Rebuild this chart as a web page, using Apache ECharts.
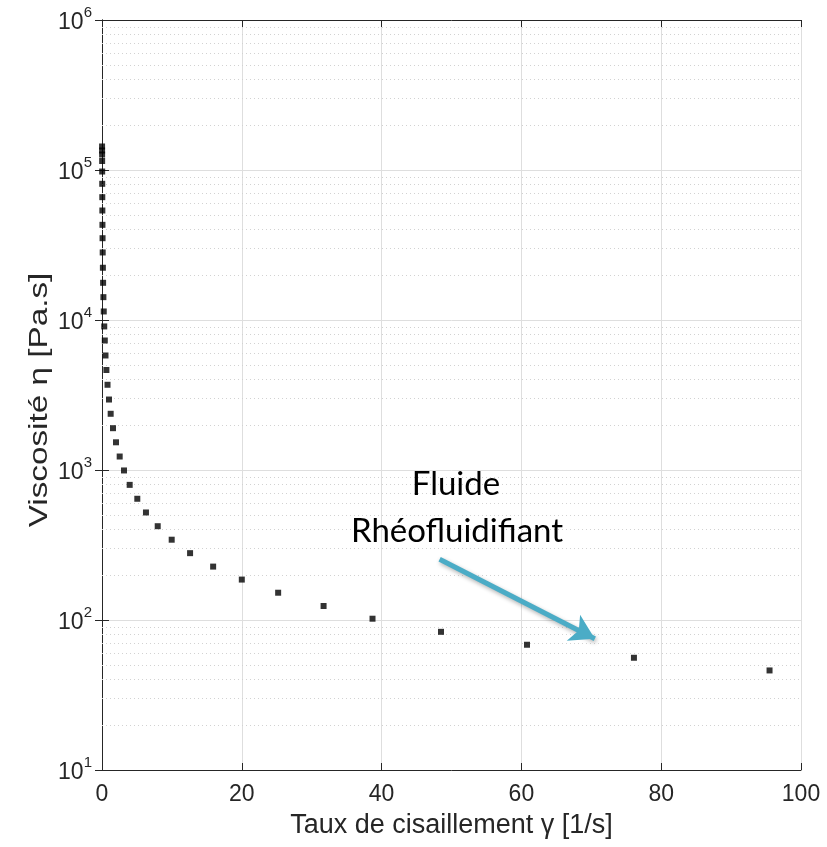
<!DOCTYPE html>
<html lang="fr">
<head>
  <meta charset="UTF-8">
  <title>Viscosité - fluide rhéofluidifiant</title>
  <script src="https://cdn.jsdelivr.net/npm/echarts@6/dist/echarts.min.js"></script>
  <style>
    html, body { margin: 0; padding: 0; background: #fff; }
    #chart { width: 827px; height: 847px; }
  </style>
</head>
<body>
  <div id="chart"></div>
  <script>
    // taux de cisaillement [1/s] et viscosité [Pa.s]
    const shearRate = [0.01, 0.0126, 0.0158, 0.02, 0.025, 0.032, 0.04, 0.05, 0.063, 0.079,
      0.1, 0.126, 0.158, 0.2, 0.25, 0.32, 0.4, 0.5, 0.63, 0.79,
      1.0, 1.24, 1.57, 2.0, 2.53, 3.15, 3.96, 5.05, 6.29, 7.97,
      9.97, 12.6, 15.9, 20.0, 25.2, 31.7, 38.7, 48.5, 60.8, 76.1, 95.5]
    const viscosity = [143500, 134900, 126800, 114800, 97700, 80900, 65900, 53700, 43100, 35100,
      28200, 22300, 17700, 14200, 11400, 9060, 7300, 5800, 4640, 3700,
      2950, 2370, 1900, 1530, 1230, 993, 796, 643, 521, 422,
      343, 279, 227, 186, 152, 124, 102, 83.4, 68.4, 56.0, 46.1]

    const yDecades = [10, 100, 1000, 10000, 100000]
    const minorSteps = [2, 3, 4, 5, 6, 7, 8, 9]

    // flèche d'annotation (coordonnées des données)
    const arrowFrom = [48.3, 254]
    const arrowTo = [70.5, 75]
    const noteLines = ['Fluide', 'Rhéofluidifiant']
    const yTitle = 'Viscosité η [Pa.s]'
    const xTitle = 'Taux de cisaillement γ [1/s]'

    const minorGrid = []
    yDecades.forEach(d => minorSteps.forEach(m => minorGrid.push({ yAxis: d * m })))

    const pts = shearRate.map((x, i) => [x, viscosity[i]])

    const axisCol = '#262626'
    const font = '"Liberation Sans", Arial, sans-serif'
    const noteFont = '33px Lato, "Open Sans", sans-serif'

    const chart = echarts.init(document.getElementById('chart'))
    chart.setOption({
      backgroundColor: '#fff',
      animation: false,
      grid: { left: 102, right: 26, top: 20, bottom: 77 },
      xAxis: [{
        type: 'value', min: 0, max: 100, interval: 20,
        name: xTitle, nameLocation: 'middle', nameGap: 42,
        nameTextStyle: { color: axisCol, fontSize: 27, fontFamily: font },
        axisLine: { show: true, lineStyle: { color: axisCol, width: 1 } },
        axisTick: { show: true, inside: true, length: 7, lineStyle: { color: axisCol } },
        axisLabel: { color: axisCol, fontSize: 23, fontFamily: font, margin: 13 },
        splitLine: { show: true, lineStyle: { color: '#dedede', width: 1 } }
      }, {
        type: 'value', min: 0, max: 100, interval: 20, position: 'top',
        axisLine: { show: true, lineStyle: { color: axisCol, width: 1 } },
        axisTick: { show: true, inside: true, length: 7, lineStyle: { color: axisCol } },
        axisLabel: { show: false }, splitLine: { show: false }
      }],
      yAxis: [{
        type: 'log', logBase: 10, min: 10, max: 1000000, splitNumber: 5,
        axisLine: { show: true, lineStyle: { color: axisCol, width: 1 } },
        axisTick: { show: true, inside: true, length: 7, lineStyle: { color: axisCol } },
        axisLabel: {
          margin: 10,
          formatter: v => '{b|10}{s|' + Math.round(Math.log10(v)) + '}',
          rich: {
            b: { color: axisCol, fontSize: 23, fontFamily: font, verticalAlign: 'bottom', padding: [6, 0, 0, 0] },
            s: { color: axisCol, fontSize: 15, fontFamily: font, verticalAlign: 'top' }
          }
        },
        splitLine: { show: true, lineStyle: { color: '#dedede', width: 1 } }
      }, {
        type: 'log', logBase: 10, min: 10, max: 1000000, splitNumber: 5, position: 'right',
        axisLine: { show: true, lineStyle: { color: axisCol, width: 1 } },
        axisTick: { show: true, inside: true, length: 7, lineStyle: { color: axisCol } },
        axisLabel: { show: false }, splitLine: { show: false }
      }],
      series: [{
        type: 'scatter',
        data: pts,
        symbol: 'rect',
        symbolSize: 6,
        itemStyle: { color: '#000' },
        z: 5,
        markLine: {
          silent: true,
          symbol: 'none',
          label: { show: false },
          lineStyle: { color: '#d2d2d2', type: [1, 3], width: 1 },
          data: minorGrid,
          z: 1
        }
      }, {
        type: 'scatter',
        data: [],
        markLine: {
          silent: true,
          symbol: ['none', 'arrow'],
          symbolSize: [22, 24],
          label: { show: false },
          lineStyle: {
            color: '#4bacc6', width: 5, type: 'solid',
            shadowColor: 'rgba(0,0,0,0.3)', shadowBlur: 4, shadowOffsetX: 1, shadowOffsetY: 2
          },
          data: [[{ coord: arrowFrom }, { coord: arrowTo }]],
          z: 6
        }
      }],
      graphic: [{
        // titre de l'axe y, étiré comme dans la figure d'origine
        type: 'text', x: 40, y: 400, rotation: Math.PI / 2, scaleX: 1.28, z: 10,
        style: { text: yTitle, fill: axisCol, align: 'center', verticalAlign: 'middle', font: '26px ' + font }
      }, {
        type: 'text', x: 456, y: 484, z: 10,
        style: { text: noteLines[0], fill: '#000', align: 'center', verticalAlign: 'middle', font: noteFont }
      }, {
        type: 'text', x: 457, y: 531, z: 10,
        style: { text: noteLines[1], fill: '#000', align: 'center', verticalAlign: 'middle', font: noteFont }
      }]
    })
  </script>
</body>
</html>
